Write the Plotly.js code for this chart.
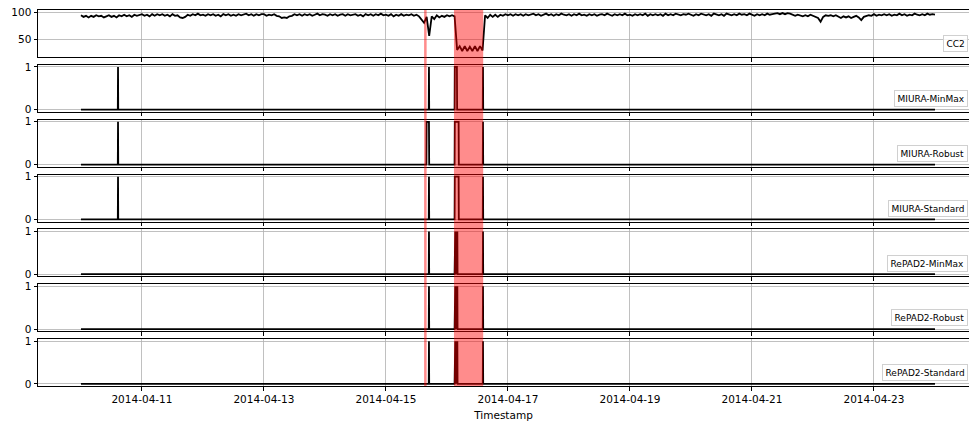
<!DOCTYPE html>
<html>
<head>
<meta charset="utf-8">
<script src="https://cdn.plot.ly/plotly-3.0.1.min.js"></script>
<style>html,body{margin:0;padding:0;background:#fff;}#chart{width:969px;height:422px;}</style>
</head>
<body>
<div id="chart"></div>
<script>
// ---------------- DATA ----------------
const panelNames = ["CC2","MIURA-MinMax","MIURA-Robust","MIURA-Standard","RePAD2-MinMax","RePAD2-Robust","RePAD2-Standard"];
const xTickVals = ["2014-04-11","2014-04-13","2014-04-15","2014-04-17","2014-04-19","2014-04-21","2014-04-23"];
const xTickText = ["2014-04-11","2014-04-13","2014-04-15","2014-04-17","2014-04-19","2014-04-21","2014-04-23"];

// CC2 hourly readings from 2014-04-10 00:00 to 2014-04-24 00:00
const cc2Start = "2014-04-10T00:00:00Z";
const cc2Values = [
 94,91,93,90,93,91,94,92,93,90,92,94,91,93,90,94,92,95,92,94,91,95,93,95,
 96,93,95,92,96,93,96,94,96,93,95,92,96,93,94,90,89,91,95,93,96,94,97,94,
 95,93,96,94,96,93,95,92,96,94,96,93,95,93,96,94,95,97,94,96,93,96,94,96,
 96,93,95,94,96,93,92,89,90,89,92,93,96,94,96,93,96,94,96,93,95,97,94,96,
 95,93,96,94,96,93,95,96,93,96,94,95,96,93,95,92,96,94,96,93,96,94,97,94,
 95,93,96,92,95,93,96,93,95,94,96,93,95,92,86,80,91,56,92,87,94,90,93,91,
 94,92,94,92,30,37,28,37,28,36,28,37,28,37,29,94,89,95,91,95,91,95,93,96,
 94,96,93,96,94,96,93,96,94,95,97,94,96,93,95,97,94,96,93,96,94,97,95,94,
 96,93,96,94,97,94,95,93,96,94,96,93,95,96,94,97,95,93,96,94,96,94,97,94,
 95,93,96,94,96,94,97,93,96,94,96,94,96,93,97,94,96,94,97,95,94,96,95,97,
 95,93,96,94,97,95,94,96,93,97,95,94,96,93,97,95,94,96,94,97,95,96,94,97,
 95,93,96,94,96,94,97,95,96,97,98,96,98,96,98,97,95,93,95,93,92,94,92,95,
 93,91,89,82,91,94,93,94,92,94,91,89,92,90,92,89,91,93,90,85,91,92,94,93,
 96,93,95,94,96,94,96,93,95,94,97,94,96,93,95,94,97,95,94,96,94,97,95,96,
 95
];

// Binary detector outputs (time, flag)
const miuraMinMaxT = ["2014-04-10 00:00","2014-04-10 14:30","2014-04-10 14:35","2014-04-10 14:40","2014-04-15 16:50","2014-04-15 16:55","2014-04-15 17:00","2014-04-16 03:00","2014-04-16 03:05","2014-04-16 03:55","2014-04-16 04:00","2014-04-16 14:05","2014-04-16 14:10","2014-04-16 14:15","2014-04-24 00:00"];
const miuraMinMaxV = [0,0,1,0,0,1,0,0,1,1,0,0,1,0,0];

const miuraRobustT = ["2014-04-10 00:00","2014-04-10 14:30","2014-04-10 14:35","2014-04-10 14:40","2014-04-15 15:55","2014-04-15 16:00","2014-04-15 16:55","2014-04-15 17:00","2014-04-16 03:00","2014-04-16 03:05","2014-04-16 04:35","2014-04-16 04:40","2014-04-16 14:05","2014-04-16 14:10","2014-04-16 14:15","2014-04-24 00:00"];
const miuraRobustV = [0,0,1,0,0,1,1,0,0,1,1,0,0,1,0,0];

const miuraStandardT = ["2014-04-10 00:00","2014-04-10 14:30","2014-04-10 14:35","2014-04-10 14:40","2014-04-15 16:50","2014-04-15 16:55","2014-04-15 17:00","2014-04-16 03:00","2014-04-16 03:05","2014-04-16 04:35","2014-04-16 04:40","2014-04-16 14:05","2014-04-16 14:10","2014-04-16 14:15","2014-04-24 00:00"];
const miuraStandardV = [0,0,1,0,0,1,0,0,1,1,0,0,1,0,0];

const repadT = ["2014-04-10 00:00","2014-04-15 16:50","2014-04-15 16:55","2014-04-15 17:00",
 "2014-04-16 03:00","2014-04-16 03:05","2014-04-16 03:10","2014-04-16 03:15","2014-04-16 03:20","2014-04-16 03:25","2014-04-16 03:30","2014-04-16 03:35","2014-04-16 03:40","2014-04-16 03:45","2014-04-16 03:50","2014-04-16 03:55","2014-04-16 04:00","2014-04-16 04:05","2014-04-16 04:10",
 "2014-04-16 14:05","2014-04-16 14:10","2014-04-16 14:15","2014-04-24 00:00"];
const repadMinMaxV   = [0,0,1,0, 0,1,0,1,0,1,0,1,0,1,0,1,0,1,0, 0,1,0,0];
const repadRobustV   = [0,0,1,0, 0,1,0,1,0,1,0,1,0,1,0,1,0,1,0, 0,1,0,0];
const repadStandardV = [0,0,1,0, 0,1,0,1,0,1,0,1,0,1,0,1,0,1,0, 0,1,0,0];

// Highlighted anomaly windows
const markLine = ["2014-04-15 15:00","2014-04-15 16:00"];
const markSpan = ["2014-04-16 02:45","2014-04-16 14:15"];

const xRange = ["2014-04-09 07:06","2014-04-24 13:23"];

// ---------------- BUILD ----------------
const cc2Times = cc2Values.map((_, i) => {
  const d = new Date(Date.parse(cc2Start) + i * 3600000);
  return d.toISOString().slice(0,16).replace("T"," ");
});

const series = [
  {x: cc2Times, y: cc2Values},
  {x: miuraMinMaxT, y: miuraMinMaxV},
  {x: miuraRobustT, y: miuraRobustV},
  {x: miuraStandardT, y: miuraStandardV},
  {x: repadT, y: repadMinMaxV},
  {x: repadT, y: repadRobustV},
  {x: repadT, y: repadStandardV}
];

const FIG_H = 422, MT = 10, MB = 36;
const plotH = FIG_H - MT - MB;
const PH = 47;
const GAP = (plotH - 7 * PH) / 6;

const font = {family: "DejaVu Sans, sans-serif", size: 10.5, color: "#000"};
const data = [];
const layout = {
  width: 969, height: FIG_H,
  margin: {l: 38, r: 0, t: MT, b: MB},
  paper_bgcolor: "#fff", plot_bgcolor: "#fff",
  showlegend: false,
  font: font,
  annotations: [],
  shapes: []
};

series.forEach((s, i) => {
  const n = i + 1;
  const xa = n === 1 ? "x" : "x" + n;
  const ya = n === 1 ? "y" : "y" + n;
  data.push({
    type: "scatter", mode: "lines",
    x: s.x, y: s.y, xaxis: xa, yaxis: ya,
    line: {color: "#000", width: 1.8},
    hoverinfo: "skip"
  });
  const top = 1 - i * (PH + GAP) / plotH;
  const bot = top - PH / plotH;
  layout[n === 1 ? "xaxis" : "xaxis" + n] = {
    type: "date", anchor: ya, domain: [0, 1],
    range: xRange, matches: n === 1 ? undefined : "x",
    showline: true, mirror: true, linecolor: "#000", linewidth: 1,
    ticks: "outside", ticklen: 3.5, tickwidth: 1, tickcolor: "#000",
    tickmode: "array", tickvals: xTickVals, ticktext: xTickText,
    showticklabels: n === 7,
    showgrid: true, gridcolor: "#b0b0b0", gridwidth: 0.8,
    zeroline: false,
    tickfont: font,
    title: n === 7 ? {text: "Timestamp", font: font, standoff: 7} : undefined
  };
  layout[n === 1 ? "yaxis" : "yaxis" + n] = {
    anchor: xa, domain: [Math.max(0, bot), Math.min(1, top)],
    range: i === 0 ? [17, 103.7] : [-0.05, 1.05],
    tickmode: "array", tickvals: i === 0 ? [50, 100] : [0, 1],
    showline: true, mirror: false, linecolor: "#000", linewidth: 1,
    ticks: "outside", ticklen: 3.5, tickwidth: 1, tickcolor: "#000",
    showgrid: true, gridcolor: "#b0b0b0", gridwidth: 0.8,
    zeroline: false, tickfont: font
  };
  layout.annotations.push({
    xref: "paper", x: 0.999, xanchor: "right",
    yref: ya + " domain", y: 0.1, yanchor: "bottom",
    text: panelNames[i], showarrow: false,
    font: {family: "DejaVu Sans, sans-serif", size: 9, color: "#000"},
    bgcolor: "rgba(255,255,255,0.85)", bordercolor: "#d0d0d0", borderwidth: 1, borderpad: 2.5
  });
});

const yTopAll = 1, yBotAll = Math.max(0, 1 - (6 * (PH + GAP) + PH) / plotH);
[markLine, markSpan].forEach(m => {
  layout.shapes.push({
    type: "rect", xref: "x", yref: "paper",
    x0: m[0], x1: m[1], y0: yBotAll, y1: yTopAll,
    fillcolor: "rgba(255,0,0,0.45)", line: {width: 0}, layer: "above"
  });
});

Plotly.newPlot("chart", data, layout, {staticPlot: true, displayModeBar: false});
</script>
</body>
</html>
